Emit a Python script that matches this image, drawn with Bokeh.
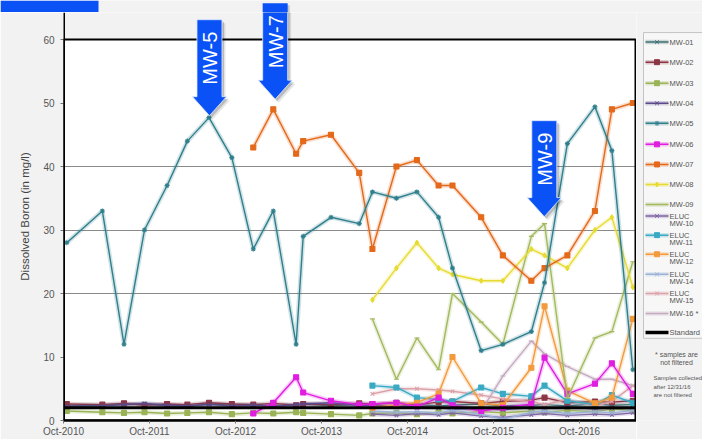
import pandas as pd
from math import pi
from bokeh.plotting import figure
from bokeh.layouts import row, column
from bokeh.models import Range1d, FixedTicker, DatetimeTickFormatter, PolyAnnotation, Label, Span, BoxAnnotation
from bokeh.core.properties import value
from bokeh.embed import file_html
from bokeh.resources import INLINE

# ---------------- data ----------------
DATES = ["2010-10-15", "2011-03-15", "2011-06-15", "2011-09-10", "2011-12-15", "2012-03-10",
         "2012-06-10", "2012-09-15", "2012-12-15", "2013-03-10", "2013-06-15", "2013-07-15",
         "2013-11-10", "2014-03-10", "2014-05-05", "2014-08-15", "2014-11-10", "2015-02-10",
         "2015-04-10", "2015-08-10", "2015-11-10", "2016-03-10", "2016-05-05", "2016-08-10",
         "2016-12-05", "2017-02-15", "2017-05-15"]

MW01 = [2.3, 2.4, 2.5, 2.6, 2.3, 2.2, 2.6, 2.4, 2.5, 2.3, 2.4, 2.6, 2.3, 2.5, 2.4, 2.2, 2.5, 2.3, 2.4, 2.6, 2.3, 2.4, 2.5, 2.3, 2.6, 2.4, 2.5]
MW02 = [2.6, 2.5, 2.7, 2.4, 2.6, 2.5, 2.8, 2.6, 2.5, 2.7, 2.4, 2.6, 2.5, 2.7, 2.6, 2.8, 2.5, 2.9, 3.0, 2.7, 3.0, 3.2, 3.6, 2.8, 3.0, 2.9, 3.1]
MW03 = [1.5, 1.3, 1.2, 1.3, 1.1, 1.2, 1.3, 1.0, 1.2, 1.1, 1.3, 1.2, 1.0, 0.8, 1.1, 1.2, 1.0, 1.3, 1.1, 1.4, 1.2, 1.5, 1.3, 1.6, 1.4, 1.8, 1.6]
MW04 = [2.2, 2.3, 2.5, 2.7, 2.4, 2.3, 2.5, 2.3, 2.4, 2.2, 2.5, 2.6, 2.8, 2.4, 2.3, 2.1, 2.2, 2.0, 1.8, 1.9, 1.7, 2.0, 1.9, 2.1, 1.8, 2.0, 1.9]
MW05 = [28, 33, 12, 30, 37, 44, 47.7, 41.4, 27, 33, 12, 29, 32, 31, 36, 35, 36, 32, 24, 11, 12, 14, 21.7, 43.6, 49.4, 42.5, 8]
MW06 = [1.1, 2.8, 6.8, 4.4, 3.1, 2.5, 2.6, 2.8, 2.2, 3.6, 2.4, 1.5, 2.0, 2.6, 9.9, 4.2, 5.8, 9.0, 4.2]   # from Dec-2012
MW07 = [43, 49, 42, 44, 45, 39, 27, 40, 41, 37, 37, 32, 26, 22, 24, 26, 33, 49, 50]                 # from Dec-2012
MW08 = [19, 24, 28, 24, 23, 22, 22, 27, 26, 24, 30, 32, 21]                                          # from May-2014
MW09 = [16, 6.5, 13, 8, 20, 15.5, 12, 29, 31, 3.5, 13, 14, 25]                                       # from May-2014
MW10 = [1.0, 0.8, 1.1, 0.9, 1.2, 0.7, 0.5, 0.9, 1.1, 0.8, 1.0, 0.9, 1.2]
MW11 = [5.5, 5.2, 3.6, 3.3, 3.0, 5.2, 4.2, 3.8, 5.5, 3.1, 2.5, 4.0, 2.8]
MW12 = [2.0, 2.5, 2.8, 4.2, 10.0, 2.7, 2.4, 8.3, 18.0, 4.7, 2.7, 3.6, 16.0]
MW14 = [1.5, 1.3, 1.4, 1.2, 1.6, 1.0, 0.2, 1.3, 1.5, 1.1, 1.4, 1.2, 1.6]
MW15 = [4.2, 5.0, 5.0, 4.8, 4.6, 4.0, 3.4, 3.0, 2.5, 3.3, 2.2, 3.0, 5.5]
MW16 = [1.5, 7.0, 12.5, 10.5, 8.5, 6.5, 6.5, 5.5]                                                    # from Aug-2015
STANDARD = 2.0

LEGEND_LABELS = ["MW-01", "MW-02", "MW-03", "MW-04", "MW-05", "MW-06", "MW-07", "MW-08", "MW-09",
                 "ELUC MW-10", "ELUC MW-11", "ELUC MW-12", "ELUC MW-14", "ELUC MW-15", "MW-16 *", "Standard"]
Y_TICKS = [0, 10, 20, 30, 40, 50, 60]
X_TICK_DATES = ["2010-10-01", "2011-10-01", "2012-10-01", "2013-10-01", "2014-10-01", "2015-10-01", "2016-10-01"]
ARROW_LABELS = ["MW-5", "MW-7", "MW-9"]
ARROW_DATES = ["2012-06-12", "2013-03-18", "2016-05-04"]
ARROW_VALUES = [48.0, 50.6, 32.1]
NOTE1 = ["* samples are", "not filtered"]
NOTE2 = ["Samples collected", "after 12/31/16", "are not filtered"]

# series: (label, values, first date index, colour, marker)
SERIES = [
    ("MW-01", MW01, 0, "#3f6f72", "x"),
    ("MW-02", MW02, 0, "#8b3545", "square"),
    ("MW-03", MW03, 0, "#9ab356", "square"),
    ("MW-04", MW04, 0, "#5a4a8c", "x"),
    ("MW-05", MW05, 0, "#2f7f8c", "asterisk"),
    ("MW-06", MW06, 8, "#e01ee0", "square"),
    ("MW-07", MW07, 8, "#e4691a", "square"),
    ("MW-08", MW08, 14, "#e6dc30", "diamond"),
    ("MW-09", MW09, 14, "#a3b95e", "dash"),
    ("ELUC MW-10", MW10, 14, "#7f65a3", "x"),
    ("ELUC MW-11", MW11, 14, "#3aaac4", "square"),
    ("ELUC MW-12", MW12, 14, "#f39a3c", "square"),
    ("ELUC MW-14", MW14, 14, "#9ab2d6", "x"),
    ("ELUC MW-15", MW15, 14, "#dca0a8", "x"),
    ("MW-16 *", MW16, 19, "#c4a9bf", "dash"),
]
DRAW_ORDER = ["MW-01", "MW-02", "MW-03", "MW-04", "ELUC MW-10", "ELUC MW-14", "ELUC MW-15",
              "ELUC MW-11", "MW-16 *", "ELUC MW-12", "MW-06", "MW-09", "MW-08", "MW-07", "MW-05"]

dates = pd.to_datetime(DATES)
FONT = "Liberation Sans"
BG = "#f2f2f2"
BLUE = "#0a52f5"

# ---------------- page geometry (px) ----------------
STRIP_H = 12                 # top strip
MAIN_W, MAIN_H = 636, 427    # main figure below the strip
LEG_W = 702 - MAIN_W
FRAME_L = 63                 # page x of plot-area left edge
Y0_PAGE, Y60_PAGE = 420, 39  # page y of value 0 and 60
FRAME_W = MAIN_W - FRAME_L
MB_B = STRIP_H + MAIN_H - Y0_PAGE

x0 = pd.Timestamp("2010-10-01")
ms_per_px = 365.25 * 86400000.0 / 86.0
x0_ms = x0.value / 1e6
x1_ms = x0_ms + FRAME_W * ms_per_px
u_per_px = 60.0 / (Y0_PAGE - Y60_PAGE)
y_top = 60 + (Y60_PAGE - STRIP_H) * u_per_px


def page_x(ms):
    return FRAME_L + (ms - x0_ms) / ms_per_px


def page_y(v):
    return Y0_PAGE - v / u_per_px


# ---------------- main figure ----------------
p = figure(width=MAIN_W, height=MAIN_H, x_axis_type="datetime",
           x_range=Range1d(x0_ms, x1_ms), y_range=Range1d(0, y_top),
           output_backend="svg", toolbar_location=None,
           min_border_left=FRAME_L, min_border_right=0, min_border_top=0, min_border_bottom=MB_B)
p.background_fill_color = BG
p.border_fill_color = BG
p.outline_line_color = None

# white plotting area
p.add_layout(BoxAnnotation(left=x0_ms, right=x1_ms, bottom=0, top=60, fill_color="white", fill_alpha=1.0,
                           line_color=None, level="image"))

p.xgrid.visible = False
p.ygrid.ticker = FixedTicker(ticks=[20, 30, 40])
p.ygrid.grid_line_color = "#8a8a8a"
p.ygrid.grid_line_width = 1.2

p.yaxis.ticker = FixedTicker(ticks=Y_TICKS)
p.yaxis.axis_label = "Dissolved Boron (in mg/l)"
p.yaxis.axis_label_text_font = FONT
p.yaxis.axis_label_text_font_style = "normal"
p.yaxis.axis_label_text_font_size = "11.5px"
p.yaxis.axis_label_text_color = "#444444"
p.yaxis.axis_label_standoff = 9
p.xaxis.ticker = FixedTicker(ticks=[pd.Timestamp(d).value / 1e6 for d in X_TICK_DATES])
p.xaxis.formatter = DatetimeTickFormatter(years="%b-%Y", months="%b-%Y", days="%b-%Y")
for ax in (p.xaxis, p.yaxis):
    ax.major_label_text_font = FONT
    ax.major_label_text_font_size = "10px"
    ax.major_label_text_color = "#555555"
    ax.minor_tick_line_color = None
    ax.major_tick_in = 0
    ax.major_tick_out = 3
    ax.major_tick_line_color = "#777777"
p.yaxis.axis_line_color = None
p.xaxis.axis_line_color = "black"
p.xaxis.axis_line_width = 2.5
p.yaxis.major_label_standoff = 6
p.xaxis.major_label_standoff = 2

lookup = {s[0]: s for s in SERIES}
for name in DRAW_ORDER:
    lab, vals, start, col, mk = lookup[name]
    xs = dates[start:start + len(vals)]
    p.line(xs, vals, line_color=col, line_width=4.5, line_alpha=0.22)
    p.line(xs, vals, line_color=col, line_width=1.4)
    p.scatter(xs, vals, marker=mk, size=5, line_color=col, fill_color=col, line_width=1.1)

p.add_layout(Span(location=STANDARD, dimension="width", line_color="black", line_width=3))

# border of the plotting area (shadowed left edge)
p.add_layout(BoxAnnotation(left=x0_ms - 4 * ms_per_px, right=x0_ms, bottom=-1 * u_per_px, top=60,
                           fill_color="#8a8a8a", fill_alpha=0.5, line_color=None))
p.add_layout(BoxAnnotation(left=x0_ms, right=x1_ms - 1 * ms_per_px, bottom=0, top=60, fill_color=None,
                           fill_alpha=0.0, line_color="black", line_alpha=1.0, line_width=2))
p.add_layout(Span(location=x0_ms, dimension="height", line_color="black", line_width=3))

# arrows (callouts)
ARROW_SHAPE = [(0, 0), (-17, 19), (-12.5, 19), (-12.5, 96), (12.5, 96), (12.5, 19), (17, 19)]
for lab, d, v in zip(ARROW_LABELS, ARROW_DATES, ARROW_VALUES):
    tx = pd.Timestamp(d).value / 1e6
    for off, alpha in ((3.5, 0.10), (2.0, 0.18)):
        p.add_layout(PolyAnnotation(
            xs=[tx + (dx + off) * ms_per_px for dx, dy in ARROW_SHAPE],
            ys=[v + (dy - off) * u_per_px for dx, dy in ARROW_SHAPE],
            fill_color="black", fill_alpha=alpha, line_color=None))
    p.add_layout(PolyAnnotation(
        xs=[tx + dx * ms_per_px for dx, dy in ARROW_SHAPE],
        ys=[v + dy * u_per_px for dx, dy in ARROW_SHAPE],
        fill_color=BLUE, fill_alpha=1.0, line_color="#dfe8ff", line_width=1, line_alpha=0.8))
    p.add_layout(Label(x=tx + 0.5 * ms_per_px, y=v + 57.5 * u_per_px, text=lab, angle=pi / 2,
                       text_align="center", text_baseline="middle", text_color="white",
                       text_font=FONT, text_font_size="20px"))

# ---------------- top strip (page y 0..12) ----------------
strip = figure(width=702, height=STRIP_H, x_range=Range1d(0, 702), y_range=Range1d(STRIP_H, 0),
               output_backend="svg", toolbar_location=None, min_border=0,
               x_axis_location=None, y_axis_location=None)
strip.grid.visible = False
strip.outline_line_color = None
strip.background_fill_color = BG
strip.border_fill_color = BG
strip.add_layout(BoxAnnotation(left=0, right=98, top=0, bottom=STRIP_H, fill_color=BLUE, fill_alpha=1.0,
                               line_color=None))
for d, v in zip(ARROW_DATES, ARROW_VALUES):
    cx = page_x(pd.Timestamp(d).value / 1e6)
    top = page_y(v) - 96
    if top < STRIP_H:
        strip.add_layout(BoxAnnotation(left=cx - 12.5 + 2, right=cx + 12.5 + 2, top=top + 2, bottom=STRIP_H,
                                       fill_color="black", fill_alpha=0.18, line_color=None))
        strip.add_layout(BoxAnnotation(left=cx - 12.5, right=cx + 12.5, top=top, bottom=STRIP_H,
                                       fill_color=BLUE, fill_alpha=1.0, line_color=None))

# ---------------- legend panel ----------------
leg = figure(width=LEG_W, height=MAIN_H, x_range=Range1d(MAIN_W, 702), y_range=Range1d(STRIP_H + MAIN_H, STRIP_H),
             output_backend="svg", toolbar_location=None, min_border=0,
             x_axis_location=None, y_axis_location=None)
leg.grid.visible = False
leg.outline_line_color = None
leg.background_fill_color = BG
leg.border_fill_color = BG
leg.add_layout(BoxAnnotation(left=643, right=708, top=33, bottom=353, fill_color="#f7f7f7", fill_alpha=1.0,
                             line_color="#c4c4c4", line_alpha=1.0, line_width=1, level="image"))

LEGEND_Y = [43, 64, 86, 107, 128, 150, 171, 192, 213, 225, 245, 265, 286, 306, 327, 347]
for i, lab in enumerate(LEGEND_LABELS):
    y = LEGEND_Y[i]
    if lab == "Standard":
        leg.line([645, 668], [y, y], line_color="black", line_width=3.5)
    else:
        _, _, _, col, mk = lookup[lab]
        leg.line([645, 668], [y, y], line_color=col, line_width=4.5, line_alpha=0.25)
        leg.line([645, 668], [y, y], line_color=col, line_width=1.5)
        leg.scatter([656.5], [y], marker=mk, size=5, line_color=col, fill_color=col)
    parts = lab.split(" ") if lab.startswith("ELUC") else [lab]
    for k, t in enumerate(parts):
        leg.text(x=[669], y=[y + 7.5 * k], text=[t], text_font=value(FONT), text_font_size="7.5px",
                 text_baseline="middle", text_align="left", text_color="#555555")

for k, t in enumerate(NOTE1):
    leg.text(x=[676], y=[370 + 8 * k], text=[t], text_font=value(FONT), text_font_size="7px",
             text_baseline="middle", text_align="center", text_color="#555555")
for k, t in enumerate(NOTE2):
    leg.text(x=[653], y=[395 + 8.5 * k], text=[t], text_font=value(FONT), text_font_size="6px",
             text_baseline="middle", text_align="left", text_color="#555555")

layout = column(strip, row(p, leg))
open("out.html", "w").write(file_html(layout, INLINE))
